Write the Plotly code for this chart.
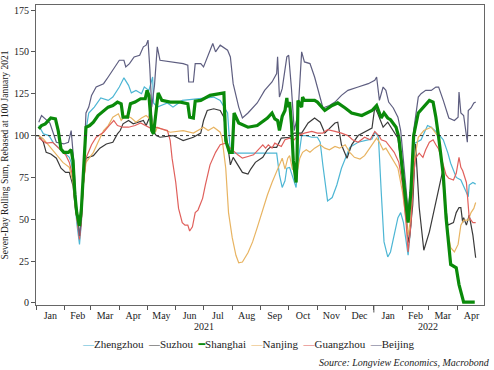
import pandas as pd
import plotly.graph_objects as go

BASE = pd.Timestamp("2021-01-01")

# Days since 1 Jan 2021 and index values
zhengzhou_days = [3, 8, 14, 19, 27, 36, 38, 40, 42, 44, 47, 49, 51, 53, 57, 63, 70, 78, 83, 90, 95, 100, 103, 108, 114, 117, 122, 126, 127, 131, 142, 148, 158, 178, 192, 199, 207, 210, 260, 263, 266, 269, 271, 274, 277, 281, 283, 287, 292, 298, 304, 307, 310, 314, 315, 320, 325, 330, 334, 339, 348, 355, 363, 366, 369, 370, 371, 373, 376, 380, 383, 387, 391, 394, 397, 402, 405, 408, 416, 423, 427, 434, 440, 445, 448, 454, 459, 465, 467, 468, 472, 475]
zhengzhou_vals = [106, 101, 100, 95.5, 91.5, 87, 84, 78, 62, 48, 35, 48, 75, 100, 113.5, 117, 122.5, 121, 123, 129, 134.5, 130, 125.5, 127, 125, 129, 127, 135, 119.5, 117, 119.5, 117, 121, 122, 123, 121, 113.5, 89.5, 89.5, 76.5, 69, 73, 80.5, 81, 76, 69, 84, 100, 100, 99, 99, 96, 82, 64.5, 61, 63, 70.5, 80.5, 86.5, 93, 96, 97, 98, 102, 100, 98.5, 86.5, 66, 36.5, 27.5, 30.5, 40.5, 51, 54, 48, 28.5, 46.5, 95, 97.5, 106, 105, 101.5, 97.5, 89.5, 83.5, 75, 73.5, 66, 63.5, 70.5, 72, 71]

suzhou_days = [0, 3, 8, 11, 16, 22, 27, 32, 36, 40, 43, 45, 47, 49, 51, 54, 62, 69, 76, 83, 88, 91, 94, 100, 105, 110, 116, 119, 122, 124, 126, 130, 134, 148, 159, 170, 178, 181, 185, 192, 199, 203, 207, 210, 213, 218, 223, 229, 232, 237, 245, 250, 253, 260, 265, 274, 279, 287, 294, 301, 307, 312, 317, 323, 326, 330, 336, 341, 348, 355, 363, 366, 369, 375, 380, 391, 396, 402, 403, 407, 410, 414, 418, 419, 425, 434, 439, 441, 445, 451, 454, 457, 459, 461, 462, 465, 468, 472, 475]
suzhou_vals = [100, 100, 96, 90, 89, 86.5, 80.5, 78, 78, 70, 54, 50, 40, 50, 70, 86.5, 88, 92.5, 95, 96, 101, 103, 107, 109, 107, 108, 109, 106, 110, 121, 103, 100, 99, 100, 97, 99, 101.5, 109, 115, 116, 115, 111, 96, 82.5, 87, 82.5, 78, 77, 80, 84, 87, 91.5, 93, 93, 98.5, 99, 101.5, 101.5, 107.5, 110.5, 108, 101.5, 104, 107.5, 108, 94.5, 86.5, 94.5, 100, 102, 104.5, 117, 113.5, 105, 108, 98.5, 76.5, 39, 36, 58.5, 95, 57, 33, 31.5, 42.5, 66, 78, 65, 46.5, 48, 54, 57, 57, 48, 51, 46.5, 52.5, 40.5, 27]

shanghai_days = [3, 6, 10, 16, 21, 24, 27, 30, 35, 38, 40, 42, 44, 47, 49, 51, 53, 54, 58, 62, 67, 73, 78, 83, 88, 92, 94, 99, 102, 107, 113, 118, 120, 122, 125, 127, 130, 132, 136, 145, 156, 164, 166, 170, 172, 178, 188, 197, 203, 205, 209, 212, 214, 219, 229, 239, 247, 250, 255, 258, 261, 263, 266, 269, 271, 272, 274, 276, 278, 281, 282, 283, 287, 288, 290, 301, 304, 312, 320, 326, 334, 341, 352, 363, 368, 371, 373, 376, 380, 383, 389, 392, 396, 400, 402, 405, 408, 413, 419, 425, 429, 432, 435, 440, 443, 446, 448, 454, 457, 462, 474]
shanghai_vals = [104, 106, 107, 110.5, 110, 103, 92, 90, 90, 91.5, 85, 65, 54, 46, 56, 75, 95, 105, 106, 108, 112, 115, 117, 118, 120, 119, 111, 111, 119, 120, 122, 122, 127, 124, 103, 101, 118, 125.5, 121, 120, 120, 119, 111, 110.5, 120.5, 121, 124, 125, 125.5, 97, 90, 90, 113.5, 107.5, 105, 106, 109, 110.5, 113.5, 110, 109, 103, 111.5, 115, 122.5, 117, 120, 107, 85, 72, 85, 121, 117, 123, 121, 121, 120, 115, 118, 119.5, 116.5, 113.5, 112, 115, 118, 114, 110.5, 113.5, 110.5, 109.5, 105, 99, 80, 60, 48, 66, 100, 113.5, 117, 121, 120, 111, 99, 76.5, 51, 33, 23, 21, 11, 0.5, 0.5]

nanjing_days = [3, 8, 14, 22, 29, 36, 40, 43, 45, 47, 49, 51, 54, 62, 67, 70, 73, 78, 83, 89, 92, 97, 103, 108, 114, 119, 125, 129, 131, 145, 159, 170, 181, 186, 192, 199, 201, 205, 208, 212, 216, 219, 223, 229, 234, 239, 245, 250, 255, 260, 263, 266, 269, 272, 274, 277, 282, 285, 288, 292, 296, 301, 307, 312, 317, 323, 328, 334, 339, 344, 350, 355, 363, 368, 371, 375, 378, 383, 391, 396, 400, 402, 405, 408, 413, 419, 427, 432, 435, 438, 441, 445, 448, 452, 456, 459, 462, 467, 470, 473, 475]
nanjing_vals = [100, 98, 94, 88.5, 84, 81, 72, 55, 48, 40, 50, 70, 84, 90, 96, 100, 103, 106, 111, 113, 109, 112, 110.5, 108, 110.5, 112, 109, 102, 105, 102, 103, 101.5, 105, 103, 105, 102, 98.5, 80.5, 54, 39, 28.5, 24, 24.5, 30, 36.5, 45, 56.5, 64.5, 72, 78, 82.5, 86.5, 80, 86.5, 88, 80, 78, 86.5, 90, 91.5, 90, 92.5, 94.5, 92.5, 91.5, 93.5, 92.5, 94.5, 90, 87, 86, 88, 94.5, 98.5, 96, 91.5, 92.5, 88, 80.5, 66, 51, 40.5, 51, 82.5, 99, 103, 105, 101.5, 99, 86.5, 62.5, 42.5, 33, 30.5, 35, 46.5, 49.5, 49.5, 54, 56.5, 60]

guangzhou_days = [3, 11, 18, 25, 32, 36, 40, 42, 45, 47, 49, 51, 54, 60, 65, 73, 79, 84, 88, 94, 100, 107, 113, 119, 125, 129, 136, 142, 145, 147, 151, 154, 158, 161, 164, 166, 169, 170, 172, 175, 180, 183, 188, 194, 199, 205, 210, 218, 223, 229, 235, 240, 245, 248, 251, 255, 258, 265, 269, 274, 279, 283, 290, 298, 304, 310, 315, 323, 330, 337, 342, 348, 355, 361, 366, 371, 373, 378, 381, 387, 392, 396, 400, 402, 405, 408, 410, 414, 418, 421, 425, 429, 432, 435, 440, 443, 446, 451, 454, 457, 459, 461, 465, 467, 468, 472, 475]
guangzhou_vals = [98.5, 95.5, 96, 92.5, 88.5, 84, 75, 60, 45, 38, 48, 70, 86.5, 94.5, 99, 102, 106, 109, 106, 105, 105, 106, 107.5, 106, 104, 105, 104, 103, 97, 86.5, 72, 56.5, 48, 46.5, 46.5, 43, 45.5, 48, 54, 55.5, 62.5, 70.5, 82.5, 90, 94.5, 95.5, 92.5, 88.5, 86.5, 87.5, 88.5, 91.5, 94.5, 92.5, 94.5, 92.5, 95.5, 93.5, 97.5, 98.5, 97.5, 100, 101.5, 102.5, 101.5, 101.5, 103.5, 102.5, 101.5, 100, 97.5, 96, 99, 97.5, 102.5, 99.5, 97.5, 96.5, 94.5, 90, 84, 70.5, 46.5, 30.5, 46.5, 76, 86.5, 89.5, 87, 91.5, 96, 97.5, 94.5, 92, 82.5, 76.5, 74.5, 73.5, 77.5, 87, 81, 79, 72, 58.5, 51, 48, 48]

beijing_days = [3, 6, 10, 15, 22, 30, 35, 38, 40, 42, 44, 47, 49, 51, 53, 54, 57, 60, 65, 73, 78, 84, 90, 95, 97, 101, 106, 112, 116, 119, 121, 123, 125, 128, 131, 134, 145, 159, 164, 165, 170, 172, 178, 181, 191, 194, 199, 207, 210, 213, 219, 223, 229, 239, 247, 255, 260, 261, 263, 266, 271, 273, 276, 279, 283, 287, 290, 296, 301, 307, 310, 317, 323, 330, 337, 348, 359, 366, 368, 371, 375, 378, 381, 386, 391, 394, 397, 400, 402, 405, 408, 413, 416, 421, 427, 432, 435, 440, 443, 446, 452, 456, 457, 459, 462, 465, 466, 467, 470, 473, 475]
beijing_vals = [108, 112, 110, 107.5, 96, 95, 96, 103, 90, 70, 55, 40, 50, 75, 100, 113.5, 117, 124, 129, 131, 135, 140, 145, 145, 141, 143, 147, 148, 153, 154, 157, 140, 117, 130, 153, 145, 144, 143, 142, 132, 132, 143, 143, 141, 155, 150, 154, 151, 147, 131, 117, 110.5, 113.5, 119.5, 127, 132, 137, 147, 123, 128, 147, 148, 128, 103, 113, 150, 144, 143, 135, 123, 116.5, 118, 120, 124, 127, 129, 131, 133, 135, 121, 129, 127, 120, 116.5, 111, 103, 85, 65, 55, 70, 103, 123, 125, 127, 127, 129, 129, 121, 115, 110.5, 109, 111, 126, 113.5, 112, 99, 96, 115, 116.5, 119.5, 120]

series = [
    ("Zhengzhou", zhengzhou_days, zhengzhou_vals, "#4db6d4", 1.2),
    ("Suzhou", suzhou_days, suzhou_vals, "#3a3a3a", 1.2),
    ("Nanjing", nanjing_days, nanjing_vals, "#e8b462", 1.2),
    ("Guangzhou", guangzhou_days, guangzhou_vals, "#e0605c", 1.2),
    ("Beijing", beijing_days, beijing_vals, "#5e5e80", 1.2),
    ("Shanghai", shanghai_days, shanghai_vals, "#0a8a0a", 3.2),
]
legend_order = ["Zhengzhou", "Suzhou", "Shanghai", "Nanjing", "Guangzhou", "Beijing"]
colors = {s[0]: s[3] for s in series}

FONT = "Liberation Serif, DejaVu Serif, serif"

fig = go.Figure()
for name, days, vals, color, width in series:
    fig.add_trace(go.Scatter(
        x=BASE + pd.to_timedelta(days, unit="D"), y=vals, mode="lines", name=name,
        line=dict(color=color, width=width), showlegend=False))

fig.add_hline(y=100, line=dict(color="#333333", width=1, dash="dot"))
fig.add_shape(type="line", xref="x", yref="paper", x0="2022-01-01", x1="2022-01-01",
              y0=0, y1=-0.025, line=dict(color="#555555", width=1))

legend_parts = []
for nm in legend_order:
    if nm == "Shanghai":
        sym = f'<span style="color:{colors[nm]}"><b>━</b></span>'
    else:
        sym = f'<span style="color:{colors[nm]}">—</span>'
    legend_parts.append(sym + nm)
fig.add_annotation(text="&nbsp;&nbsp;".join(legend_parts), xref="paper", yref="paper",
                   x=0.475, y=-0.13, xanchor="center", yanchor="middle", showarrow=False,
                   font=dict(family=FONT, size=11, color="#222222"))
fig.add_annotation(text="<i>Source: Longview Economics, Macrobond</i>", xref="paper", yref="paper",
                   x=1.018, y=-0.19, xanchor="right", yanchor="middle", showarrow=False,
                   font=dict(family=FONT, size=10, color="#222222"))
for yr, mid in [("2021", "2021-07-02"), ("2022", "2022-02-28")]:
    fig.add_annotation(text=yr, xref="x", yref="paper", x=mid, y=-0.073, xanchor="center",
                       yanchor="middle", showarrow=False,
                       font=dict(family=FONT, size=10, color="#222222"))

fig.update_layout(
    width=494, height=370, autosize=False,
    margin=dict(l=36, r=10, t=5, b=65),
    plot_bgcolor="white", paper_bgcolor="white",
    font=dict(family=FONT, size=10, color="#222222"),
    xaxis=dict(range=["2021-01-01", "2022-04-30"], dtick="M1", tick0="2021-01-01",
               tickformat="%b", ticklabelmode="period", ticks="outside", ticklen=4,
               tickcolor="#555555", showgrid=False, showline=True, linecolor="#666666",
               mirror=True, zeroline=False, tickfont=dict(size=10),
               ticklabelstandoff=-3),
    yaxis=dict(range=[-1.2, 178], tickvals=[0, 25, 50, 75, 100, 125, 150, 175],
               ticks="outside", ticklen=4, tickcolor="#555555", showgrid=False,
               showline=True, linecolor="#666666", mirror=True, zeroline=False,
               tickfont=dict(size=10),
               title=dict(text="Seven-Day Rolling Sum, Rebased at 100 January 2021",
                          font=dict(size=9.5), standoff=3)),
)

fig.write_html("out.html", config={"displayModeBar": False},
               post_script="document.body.style.margin='0';")
